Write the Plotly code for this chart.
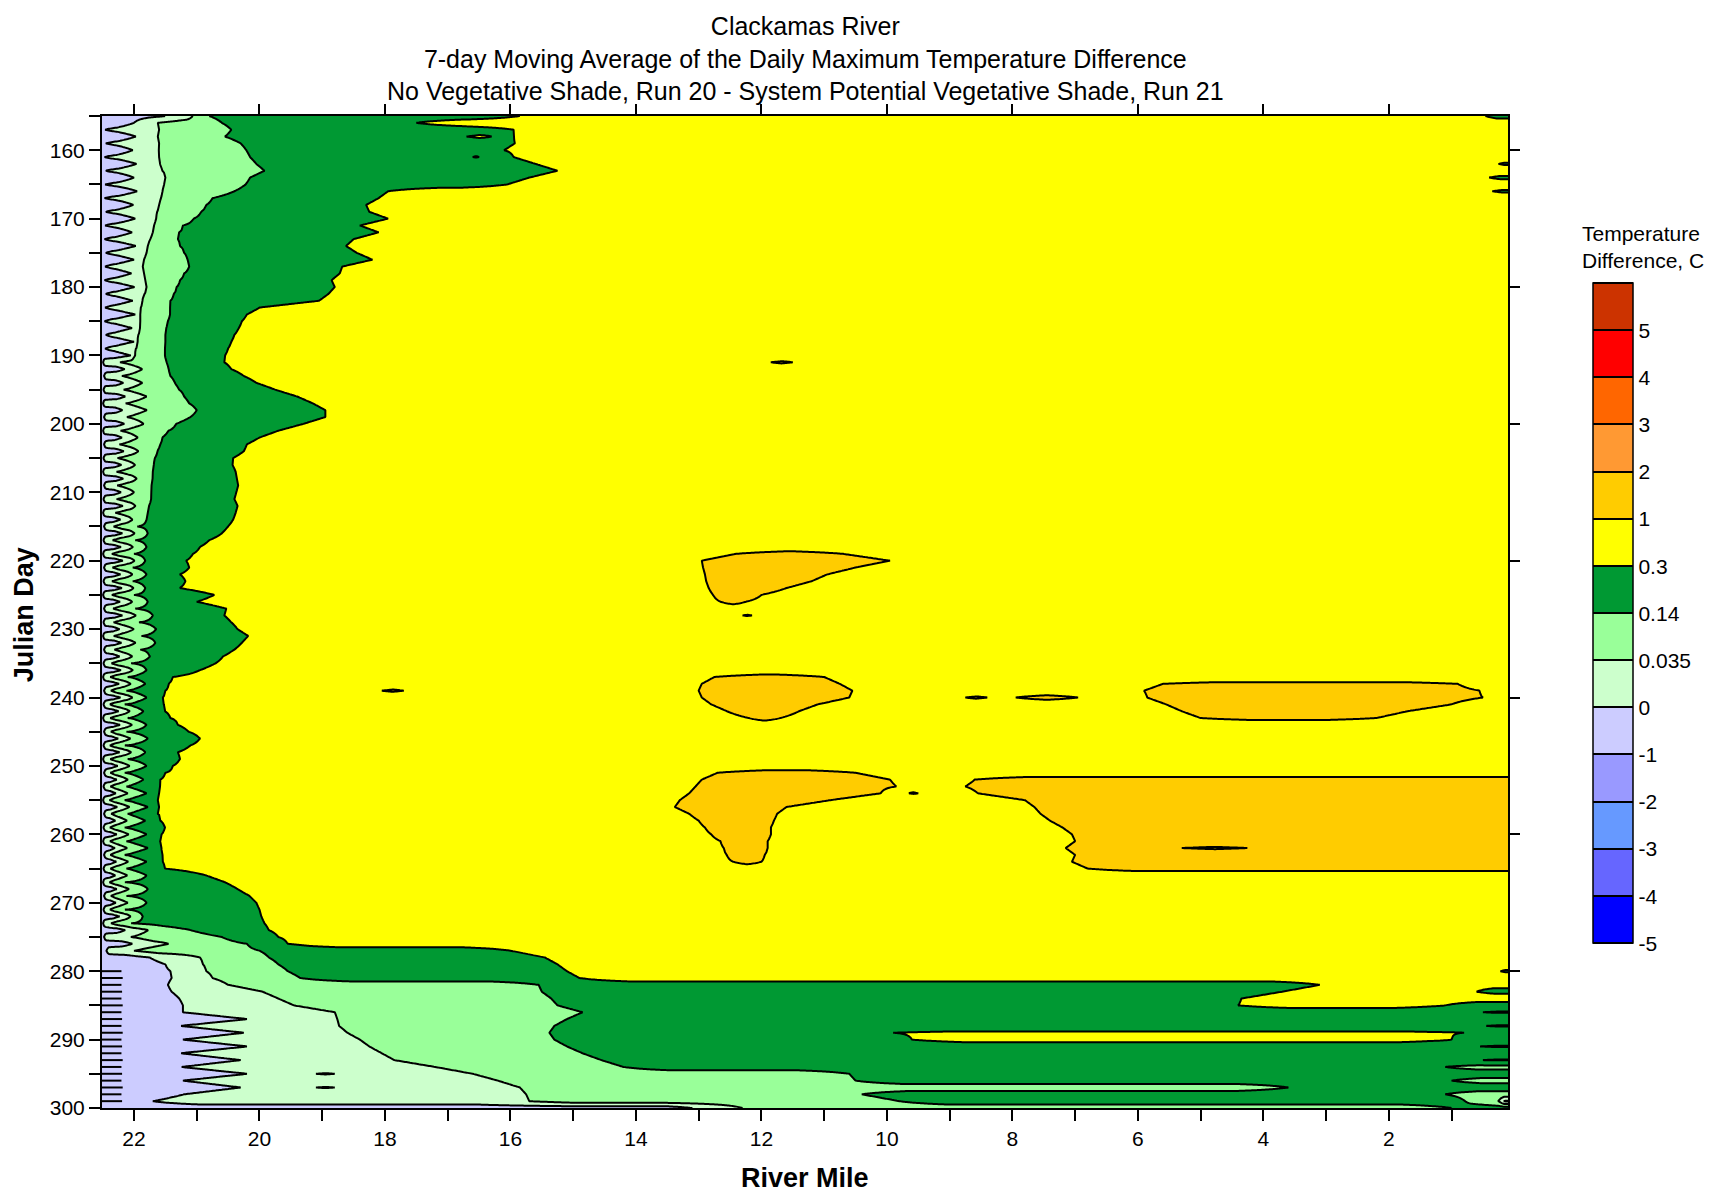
import numpy as np
import plotly.graph_objects as go

# colour classes (lower bound of each band, deg C) and their fills
class_labels = ["-5", "-4", "-3", "-2", "-1", "0", "0.035", "0.14", "0.3", "1", "2", "3", "4", "5"]
class_colors = ["#0000FF", "#6666FF", "#6699FF", "#9999FF", "#CCCCFF", "#CCFFCC", "#99FF99",
                "#009933", "#FFFF00", "#FFCC00", "#FF9933", "#FF6600", "#FF0000", "#CC3300"]

days = list(range(155, 301))

# river mile where the negative (lavender) band ends, one value per day
e_pale = [22.00,
          22.00, 22.46, 21.97, 22.45, 22.02, 22.47, 21.96, 22.45, 22.00, 22.46,
          21.95, 22.47, 22.01, 22.45, 21.98, 22.46, 22.03, 22.47, 21.97, 22.45,
          22.00, 22.46, 22.04, 22.47, 21.99, 22.45, 22.02, 22.46, 21.98, 22.47,
          22.03, 22.45, 22.00, 22.46, 22.05, 22.47, 22.01, 22.45, 22.04, 22.46,
          22.00, 22.47, 22.06, 22.45, 22.02,
          22.47, 22.07, 22.45, 22.03, 22.46, 22.08, 22.47, 22.04, 22.45, 22.09,
          22.46, 22.05, 22.47, 22.10, 22.45, 22.06, 22.46, 22.09, 22.47, 22.05,
          22.45, 22.10, 22.46, 22.07, 22.47, 22.11, 22.45, 22.06, 22.46, 22.12,
          22.47, 22.08, 22.45, 22.12, 22.46, 22.09, 22.47, 22.13, 22.45, 22.10,
          22.46, 22.14, 22.47, 22.11, 22.45, 22.15, 22.46, 22.12, 22.47, 22.16,
          22.45, 22.18, 22.46, 22.20, 22.47, 22.17, 22.45, 22.21, 22.46, 22.18,
          22.47, 22.22, 22.45, 22.19, 22.46, 22.21, 22.47, 22.18, 22.45, 22.20,
          22.46, 22.12, 22.47, 22.00, 22.45, 21.85, 22.40, 21.75,
          21.50, 21.42, 21.40, 21.46, 21.40, 21.28, 21.22, 21.22, 20.20, 21.25,
          20.25, 21.22, 20.20, 21.25, 20.30, 21.24, 20.20, 21.22, 20.30, 21.20,
          21.70, 12.70]

# days that have a separate 0-0.035 band, and where that band ends
light_days = list(range(155, 191)) + list(range(278, 301))
light_edge = [22.00,
              21.62, 21.60, 21.62, 21.60, 21.61, 21.60, 21.59, 21.55, 21.50, 21.52,
              21.55, 21.57, 21.60, 21.63, 21.65, 21.68, 21.70, 21.74, 21.78, 21.80,
              21.84, 21.86, 21.84, 21.82, 21.80, 21.83, 21.87, 21.89, 21.90, 21.90,
              21.91, 21.93, 21.95, 21.97, 21.99,
              20.95, 20.90, 20.85, 20.75, 20.50, 19.95, 19.70, 19.45, 18.80, 18.76,
              18.73, 18.60, 18.40, 18.25, 18.05, 17.85, 17.20, 16.60, 16.20, 15.85,
              15.75, 15.70, 15.60]

# river mile where the 0.14-0.3 band starts, one value per day
e_green = [20.80, 20.60, 20.45, 20.55, 20.30, 20.21, 20.15, 20.05, 19.92, 20.15,
           20.22, 20.40, 20.75, 20.85, 20.93, 21.05, 21.22, 21.28, 21.30, 21.27,
           21.20, 21.15, 21.12, 21.20, 21.27, 21.32, 21.37, 21.42, 21.43, 21.43,
           21.46, 21.49, 21.50, 21.50, 21.51, 21.51, 21.48, 21.45, 21.42, 21.35,
           21.28, 21.20, 21.12, 21.00, 21.10, 21.33, 21.45, 21.55, 21.58, 21.63,
           21.67, 21.69, 21.70, 21.71, 21.72, 21.73, 21.73, 21.76, 21.78, 21.80,
           21.95, 21.78, 21.98, 21.80, 22.00, 21.82, 22.02, 21.80, 22.02, 21.82,
           22.00, 21.78, 21.98, 21.70, 21.92, 21.65, 21.88, 21.66, 21.90, 21.75,
           22.05, 21.80, 22.10, 21.82, 22.12, 21.80, 22.15, 21.85, 22.10, 21.80,
           22.12, 21.78, 22.15, 21.82, 22.10, 21.80, 22.15, 21.85, 22.12, 21.80,
           22.15, 21.78, 22.10, 21.82, 22.15, 21.80, 22.12, 21.78, 22.15, 21.80,
           22.12, 21.80, 22.15, 21.78, 22.12, 21.80, 22.15, 21.86, 22.05, 21.10,
           20.60, 20.20, 20.00, 19.85, 19.70, 19.55, 19.35, 15.55, 15.50, 15.35,
           15.25, 14.85, 15.10, 15.30, 15.38, 15.30, 15.10, 14.85, 14.55, 14.20,
           10.60, 10.50, 3.60, 10.40, 9.80, 1.00]

# river mile where the 0.3-1 band starts (0 = no such band that day)
e_yellow = [15.85, 17.50, 15.95, 15.95, 15.93, 16.10, 15.95, 15.60, 15.25, 15.70,
            16.05, 17.95, 18.10, 18.30, 18.25, 17.95, 18.40, 18.10, 18.50, 18.62,
            18.45, 18.20, 18.68, 18.72, 18.85, 18.80, 18.90, 19.05, 20.00, 20.20,
            20.28, 20.33, 20.40, 20.45, 20.50, 20.55, 20.56, 20.45, 20.25, 20.05,
            19.75, 19.40, 19.15, 18.95, 18.95, 19.30, 19.70, 20.00, 20.20, 20.25,
            20.42, 20.43, 20.38, 20.36, 20.34, 20.37, 20.40, 20.35, 20.38, 20.42,
            20.50, 20.60, 20.80, 20.95, 21.06, 21.17, 21.12, 21.27, 21.18, 21.27,
            20.72, 21.00, 20.53, 20.56, 20.45, 20.35, 20.18, 20.28, 20.40, 20.58,
            20.70, 20.95, 21.38, 21.45, 21.50, 21.54, 21.53, 21.51, 21.42, 21.30,
            21.13, 20.95, 21.10, 21.30, 21.27, 21.38, 21.50, 21.58, 21.59, 21.60,
            21.62, 21.60, 21.62, 21.58, 21.51, 21.56, 21.59, 21.57, 21.55, 21.54,
            21.51, 20.85, 20.55, 20.35, 20.16, 20.05, 20.00, 19.97, 19.92, 19.85,
            19.70, 19.55, 16.00, 15.45, 15.25, 15.10, 14.90, 0.00, 0.00, 0.00,
            0.00, 0.00, 0.00, 0.00, 0.00, 0.00, 0.00, 0.00, 0.00, 0.00,
            0.00, 0.00, 0.00, 0.00, 0.00, 0.00]

# patches on single days: day, west mile, east mile, class value (index space)
seg_day = [191,
           219, 220, 221, 222, 223, 224, 225, 226, 228,
           237, 238, 239, 240, 241, 242, 243, 239, 240, 240,
           238, 239, 240, 241, 242, 243,
           251, 252, 253, 254, 255, 256, 257, 258, 259, 260, 261, 262, 263, 264, 254,
           252, 253, 254, 255, 256, 257, 258, 259, 260, 261, 262, 263, 264, 265, 262,
           155, 158, 161, 155, 162, 164, 166, 280,
           282, 283, 284, 285, 289, 290,
           283, 286, 288, 291, 293, 294, 296, 298, 299,
           295, 297]
seg_west = [11.85,
            12.40, 12.95, 12.93, 12.90, 12.88, 12.84, 12.77, 12.65, 12.30,
            12.75, 12.95, 13.00, 12.95, 12.80, 12.55, 12.20, 18.05, 8.75, 7.95,
            5.60, 5.90, 5.85, 5.55, 5.30, 5.00,
            12.70, 12.95, 13.05, 13.15, 13.30, 13.38, 13.15, 13.00, 12.90, 12.80, 12.65, 12.60, 12.55, 12.45, 9.65,
            8.60, 8.75, 8.55, 7.80, 7.65, 7.55, 7.40, 7.20, 7.05, 7.00, 7.15, 7.00, 7.05, 6.80, 5.30,
            22.00, 16.70, 16.60, 0.46, 0.25, 0.40, 0.35, 0.22,
            3.10, 3.70, 4.35, 4.40, 9.90, 9.60,
            0.60, 0.50, 0.45, 0.55, 0.50, 1.10, 1.00, 1.10, 0.25,
            19.10, 19.10]
seg_east = [11.50,
            10.70, 9.95, 10.50, 10.95, 11.20, 11.60, 12.00, 12.25, 12.15,
            11.00, 10.75, 10.55, 10.60, 11.10, 11.40, 11.70, 17.70, 8.40, 6.95,
            0.90, 0.55, 0.50, 1.00, 1.70, 2.20,
            10.50, 9.95, 9.85, 10.10, 10.90, 11.60, 11.75, 11.80, 11.85, 11.85, 11.90, 11.90, 11.95, 12.00, 9.50,
            0.00, 0.00, 0.00, 0.00, 0.00, 0.00, 0.00, 0.00, 0.00, 0.00, 0.00, 0.00, 0.00, 0.00, 4.25,
            21.15, 16.30, 16.50, 0.00, 0.00, 0.00, 0.00, 0.00,
            0.00, 0.00, 0.00, 1.10, 0.80, 1.00,
            0.00, 0.00, 0.00, 0.00, 0.00, 0.00, 0.00, 0.00, 0.00,
            18.80, 18.80]
seg_value = [9.10,
             9.30, 9.50, 9.50, 9.50, 9.50, 9.50, 9.50, 9.30, 9.05,
             9.30, 9.50, 9.50, 9.50, 9.50, 9.50, 9.30, 9.10, 9.10, 9.25,
             9.15, 9.50, 9.50, 9.50, 9.50, 9.20,
             9.30, 9.50, 9.50, 9.50, 9.50, 9.50, 9.50, 9.50, 9.50, 9.50, 9.50, 9.50, 9.50, 9.30, 9.05,
             9.30, 9.50, 9.50, 9.50, 9.50, 9.50, 9.50, 9.50, 9.50, 9.50, 9.50, 9.50, 9.50, 9.30, 8.90,
             4.90, 8.10, 8.05, 7.70, 7.90, 7.85, 7.90, 7.90,
             8.20, 8.50, 8.50, 8.30, 8.10, 8.30,
             7.80, 8.05, 8.05, 8.05, 8.05, 6.70, 6.70, 6.60, 4.90,
             4.95, 4.95]

# short zero-difference streaks at the upstream end
rake_days = [280, 281, 282, 283, 284, 285, 286, 287, 288, 289,
             290, 291, 292, 293, 294, 295, 296, 297, 298, 299]
rake_reach = [22.20, 22.18, 22.20, 22.19, 22.20, 22.18, 22.20, 22.19, 22.20, 22.18,
              22.20, 22.19, 22.20, 22.18, 22.20, 22.19, 22.20, 22.18, 22.20, 22.19]

X_W, X_E = 22.56, 0.06
RAMP = 0.8
x_grid = np.round(np.arange(X_E, X_W + 1e-9, 0.02), 4)
light_of = dict(zip(light_days, light_edge))


def overlay(ivs, w, e, v):
    out = []
    for a, b, c in ivs:
        if b >= w or a <= e:
            out.append([a, b, c])
            continue
        if a > w:
            out.append([a, w, c])
        if e > b:
            out.append([e, b, c])
    out.append([w, e, v])
    out.sort(key=lambda t: -t[0])
    return out


def profile(ivs):
    px, pz = [], []
    for j, (a, b, c) in enumerate(ivs):
        h = min(RAMP, 0.5 * (a - b))
        if j == 0:
            px.append(a)
            pz.append(c)
        px += [a - h, b + h]
        pz += [c, c]
        if j + 1 < len(ivs):
            n = ivs[j + 1][2]
            fc, fn = np.floor(c), np.floor(n)
            px.append(b)
            pz.append((fc + fn + 1) / 2 if fc != fn else (c + n) / 2)
        else:
            px.append(b)
            pz.append(c)
    return np.interp(x_grid, np.array(px[::-1]), np.array(pz[::-1]))


z = []
for i, d in enumerate(days):
    edges = [e_pale[i], light_of.get(d, e_pale[i]), e_green[i], e_yellow[i]]
    bounds = [X_W]
    for e in edges:
        bounds.append(max(min(e, bounds[-1]), X_E))
    bounds.append(X_E)
    centres = [4.5, 5.5, 6.5, 7.5, 8.5]
    ivs = [[bounds[j], bounds[j + 1], centres[j]] for j in range(5) if bounds[j] - bounds[j + 1] > 1e-9]
    for k in range(len(seg_day)):
        if seg_day[k] == d:
            ivs = overlay(ivs, min(seg_west[k], X_W), max(seg_east[k], X_E), seg_value[k])
    z.append(profile(ivs))
z = np.array(z)

# stepped colour scale: class k fills [k, k+1] in index space
scale = []
for k, c in enumerate(class_colors):
    scale += [[k / 14, c], [(k + 1) / 14, c]]

fig = go.Figure()
fig.add_trace(go.Contour(
    x=x_grid, y=days, z=z,
    autocontour=False, zmin=0, zmax=14,
    contours=dict(start=0, end=14, size=1, coloring="fill", showlines=True),
    colorscale=scale,
    line=dict(color="black", width=2, smoothing=0),
    hoverinfo="skip",
    colorbar=dict(
        tickvals=list(range(14)), ticktext=class_labels, ticks="",
        tickfont=dict(size=21),
        thickness=40, lenmode="pixels", len=660,
        x=1.0601, xanchor="left", xpad=0,
        y=0.4986, yanchor="middle", ypad=0,
        outlinecolor="black", outlinewidth=1.5,
    ),
))

rx, ry = [], []
for d, r in zip(rake_days, rake_reach):
    rx += [22.51, r, None]
    ry += [d, d, None]
fig.add_trace(go.Scatter(x=rx, y=ry, mode="lines", line=dict(color="black", width=2),
                         showlegend=False, hoverinfo="skip"))
fig.add_trace(go.Scatter(x=[None], y=[None], xaxis="x2", yaxis="y2", showlegend=False,
                         hoverinfo="skip"))

title_text = ("Clackamas River<br>"
              "7-day Moving Average of the Daily Maximum Temperature Difference<br>"
              "No Vegetative Shade, Run 20 - System Potential Vegetative Shade, Run 21")
fig.add_annotation(text=title_text, x=0.5, y=1.1068, xref="paper", yref="paper",
                   showarrow=False, xanchor="center", yanchor="top", align="center",
                   font=dict(size=25))

fig.add_annotation(text="Temperature<br>Difference, C", x=1.0515, y=0.8682, xref="paper",
                   yref="paper", showarrow=False, xanchor="left", yanchor="middle",
                   align="left", font=dict(size=21))

fig.add_annotation(text="<b>River Mile</b>", x=0.5, y=-0.071, xref="paper", yref="paper",
                   showarrow=False, xanchor="center", yanchor="middle", font=dict(size=27))
fig.add_annotation(text="<b>Julian Day</b>", x=-0.0559, y=0.4972, xref="paper", yref="paper",
                   showarrow=False, xanchor="center", yanchor="middle", textangle=-90,
                   font=dict(size=27))

mile_ticks = [22, 20, 18, 16, 14, 12, 10, 8, 6, 4, 2]
day_ticks = [160, 170, 180, 190, 200, 210, 220, 230, 240, 250, 260, 270, 280, 290, 300]
tick_style = dict(ticks="outside", ticklen=11, tickwidth=1.5, tickcolor="black",
                  showgrid=False, zeroline=False, automargin=False)

# page body adds an 8px offset, so the figure is drawn 8px smaller on each side
fig.update_layout(
    width=1712, height=1185,
    margin=dict(l=94, r=212, t=108, b=85),
    paper_bgcolor="white", plot_bgcolor="white",
    font=dict(family="Liberation Sans, Arial, sans-serif", size=21, color="black"),
    showlegend=False,
    xaxis=dict(range=[22.51, 0.1], tickvals=mile_ticks, showline=True, linewidth=2,
               linecolor="black", mirror=True,
               minor=dict(dtick=1, tick0=0, ticks="outside", ticklen=11, tickwidth=1.5,
                          tickcolor="black"),
               **tick_style),
    yaxis=dict(range=[300, 155], tickvals=day_ticks, showline=True, linewidth=2,
               linecolor="black", mirror=True,
               minor=dict(dtick=5, tick0=0, ticks="outside", ticklen=11, tickwidth=1.5,
                          tickcolor="black"),
               **tick_style),
    xaxis2=dict(overlaying="x", side="top", anchor="y", range=[22.51, 0.1],
                tickvals=mile_ticks, showticklabels=False, showline=False, **tick_style),
    yaxis2=dict(overlaying="y", side="right", anchor="x", range=[300, 155],
                tickvals=[160, 180, 200, 220, 240, 260, 280], showticklabels=False,
                showline=False, **tick_style),
)

fig.write_html("out.html")
